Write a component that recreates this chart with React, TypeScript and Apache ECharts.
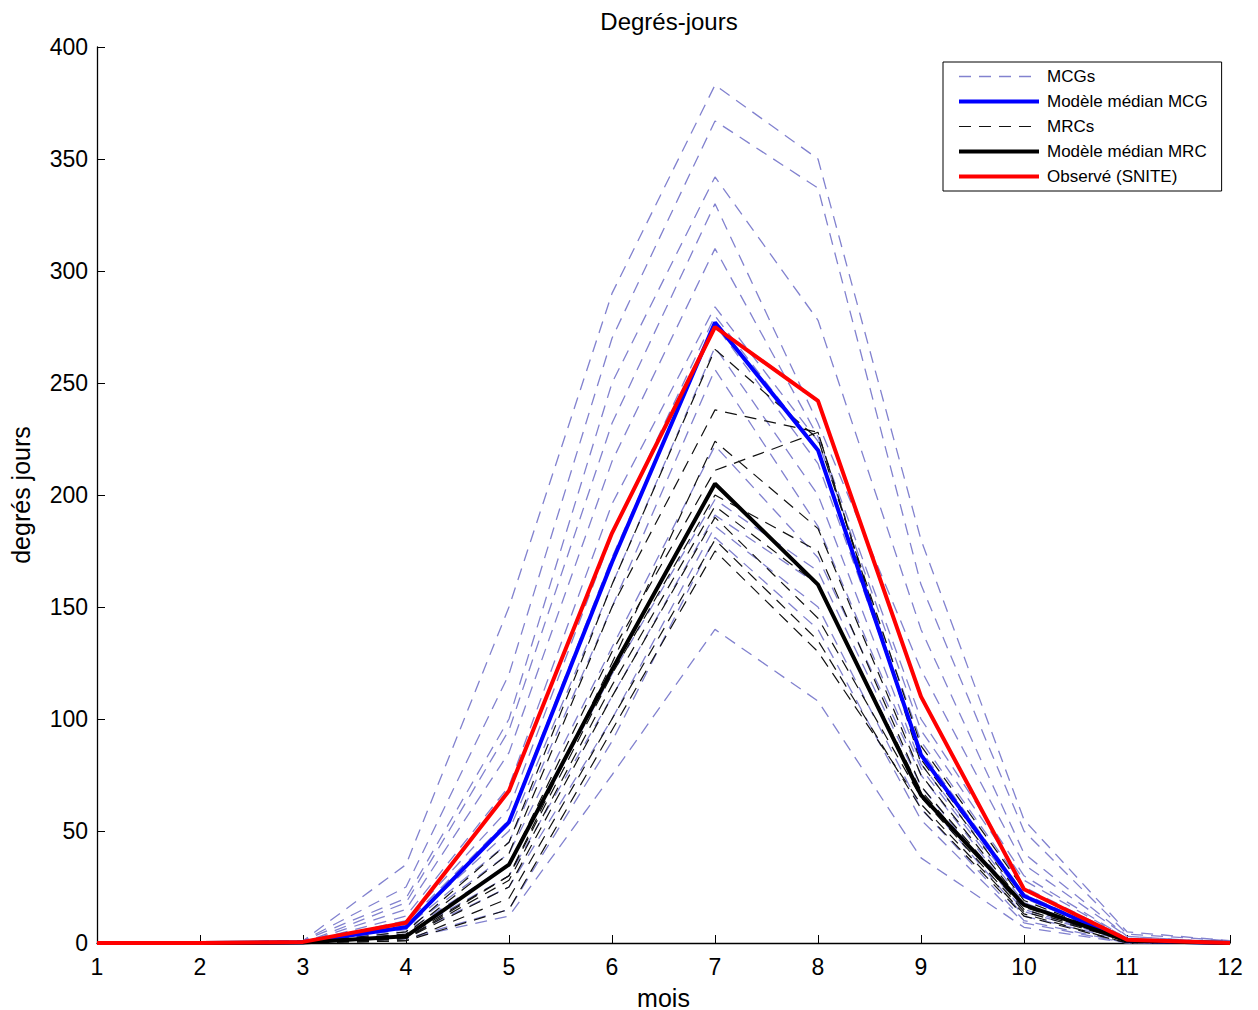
import React, { useEffect, useRef } from "react";
import * as echarts from "echarts";

const months = [1, 2, 3, 4, 5, 6, 7, 8, 9, 10, 11, 12];

const mcgRuns = [
  [0, 0, 1, 35, 150, 290, 383, 350, 180, 55, 5, 1],
  [0, 0, 1, 25, 120, 270, 367, 337, 160, 50, 4, 1],
  [0, 0, 1, 20, 100, 250, 342, 278, 140, 40, 3, 0],
  [0, 0, 0, 18, 95, 232, 330, 232, 122, 35, 3, 0],
  [0, 0, 0, 15, 85, 215, 310, 226, 100, 30, 2, 0],
  [0, 0, 0, 12, 70, 196, 284, 224, 95, 28, 2, 0],
  [0, 0, 0, 10, 60, 182, 280, 220, 90, 25, 2, 0],
  [0, 0, 0, 9, 55, 172, 276, 214, 86, 22, 1, 0],
  [0, 0, 0, 8, 50, 160, 266, 200, 80, 20, 1, 0],
  [0, 0, 0, 7, 45, 150, 256, 186, 78, 18, 1, 0],
  [0, 0, 0, 6, 40, 132, 222, 172, 75, 15, 1, 0],
  [0, 0, 0, 5, 35, 120, 198, 166, 70, 14, 1, 0],
  [0, 0, 0, 4, 30, 110, 191, 160, 66, 12, 1, 0],
  [0, 0, 0, 3, 25, 100, 186, 150, 60, 10, 0, 0],
  [0, 0, 0, 2, 15, 90, 181, 140, 55, 9, 0, 0],
  [0, 0, 0, 2, 12, 75, 140, 108, 38, 7, 0, 0],
];

const mrcRuns = [
  [0, 0, 0, 5, 45, 160, 265, 225, 88, 24, 1, 0],
  [0, 0, 0, 4, 40, 150, 238, 228, 82, 21, 1, 0],
  [0, 0, 0, 3, 35, 130, 211, 228, 80, 19, 1, 0],
  [0, 0, 0, 3, 30, 125, 224, 185, 75, 17, 1, 0],
  [0, 0, 0, 2, 30, 120, 200, 175, 70, 16, 1, 0],
  [0, 0, 0, 2, 28, 115, 195, 160, 68, 15, 1, 0],
  [0, 0, 0, 2, 25, 110, 190, 145, 65, 14, 1, 0],
  [0, 0, 0, 1, 20, 100, 180, 135, 60, 12, 0, 0],
  [0, 0, 0, 1, 15, 95, 175, 130, 62, 13, 0, 0],
];

const medianMCG = [0, 0, 0.3, 7, 54, 170, 277, 220, 84, 21, 1, 0];
const medianMRC = [0, 0, 0.2, 3, 35, 122, 205, 160, 66, 17, 1, 0];
const observed = [0, 0, 0.5, 9, 68, 183, 275, 242, 110, 24, 1.5, 0];

const legendNames = ["MCGs", "Modèle médian MCG", "MRCs", "Modèle médian MRC", "Observé (SNITE)"];

const toPairs = (vals: number[]) => months.map((m, i) => [m, vals[i]]);

export default function App() {
  const ref = useRef<HTMLDivElement>(null);
  useEffect(() => {
    if (!ref.current) return;
    const chart = echarts.init(ref.current, undefined, { renderer: "svg" });
    const font = "'Liberation Sans', Arial, sans-serif";
    const series: any[] = [];
    mcgRuns.forEach((r) =>
      series.push({
        name: legendNames[0],
        type: "line",
        data: toPairs(r),
        symbol: "none",
        lineStyle: { color: "#8282cf", width: 1.3, type: [12, 8] },
        z: 1,
      })
    );
    mrcRuns.forEach((r) =>
      series.push({
        name: legendNames[2],
        type: "line",
        data: toPairs(r),
        symbol: "none",
        lineStyle: { color: "#111111", width: 1.2, type: [12, 8] },
        z: 2,
      })
    );
    series.push({
      name: legendNames[1],
      type: "line",
      data: toPairs(medianMCG),
      symbol: "none",
      lineStyle: { color: "#0000ff", width: 4 },
      z: 3,
    });
    series.push({
      name: legendNames[3],
      type: "line",
      data: toPairs(medianMRC),
      symbol: "none",
      lineStyle: { color: "#000000", width: 4 },
      z: 3,
    });
    series.push({
      name: legendNames[4],
      type: "line",
      data: toPairs(observed),
      symbol: "none",
      lineStyle: { color: "#ff0000", width: 4 },
      z: 4,
    });

    chart.setOption({
      animation: false,
      backgroundColor: "#ffffff",
      title: {
        text: "Degrés-jours",
        left: 664,
        top: 4,
        textAlign: "center",
        textStyle: { fontFamily: font, fontSize: 24, fontWeight: "normal", color: "#000" },
      },
      legend: {
        data: legendNames,
        orient: "vertical",
        left: 943,
        top: 62,
        padding: [6, 14, 6, 14],
        itemWidth: 80,
        itemHeight: 14,
        itemGap: 8,
        borderColor: "#000",
        borderWidth: 1,
        borderRadius: 0,
        backgroundColor: "#fff",
        selectedMode: false,
        itemStyle: { opacity: 0, color: "transparent", borderWidth: 0 },
        lineStyle: { width: "inherit" },
        textStyle: { fontFamily: font, fontSize: 17, color: "#000", padding: [0, 0, 0, 3] },
      },
      grid: { left: 97, right: 28, top: 47, bottom: 67, outerBoundsMode: "none", containLabel: false },
      xAxis: {
        type: "value",
        min: 1,
        max: 12,
        interval: 1,
        name: "mois",
        nameLocation: "middle",
        nameGap: 42,
        nameTextStyle: { fontFamily: font, fontSize: 25, color: "#000" },
        axisLine: { lineStyle: { color: "#000", width: 1.3 } },
        axisTick: { inside: true, length: 8, lineStyle: { color: "#000" } },
        axisLabel: { fontFamily: font, fontSize: 23, color: "#000", margin: 12 },
        splitLine: { show: false },
      },
      yAxis: {
        type: "value",
        min: 0,
        max: 400,
        interval: 50,
        name: "degrés jours",
        nameLocation: "middle",
        nameGap: 64,
        nameRotate: 90,
        nameTextStyle: { fontFamily: font, fontSize: 25, color: "#000" },
        axisLine: { show: true, lineStyle: { color: "#000", width: 1.3 } },
        axisTick: { show: true, inside: true, length: 8, lineStyle: { color: "#000" } },
        axisLabel: { fontFamily: font, fontSize: 23, color: "#000", margin: 9 },
        splitLine: { show: false },
      },
      series,
    });
    return () => chart.dispose();
  }, []);
  return (
    <div
      ref={ref}
      style={{ position: "absolute", left: 0, top: 0, width: 1258, height: 1010, background: "#fff" }}
    />
  );
}
